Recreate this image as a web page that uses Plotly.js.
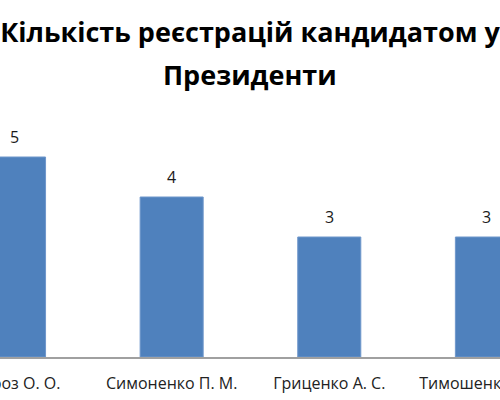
<!DOCTYPE html>
<html>
<head>
<meta charset="utf-8">
<script src="https://cdn.plot.ly/plotly-3.0.1.min.js"></script>
<style>html,body{margin:0;padding:0;background:#fff;}#chart{width:500px;height:400px;}</style>
</head>
<body>
<div id="chart"></div>
<script>
var titleLine1 = "Кількість реєстрацій кандидатом у";
var titleLine2 = "Президенти";
var candidates = ["Мороз О. О.", "Симоненко П. М.", "Гриценко А. С.", "Тимошенко Ю. В."];
var registrations = [5, 4, 3, 3];

var labelAnnotations = candidates.map(function (c, i) {
  return {
    x: c, y: registrations[i], xref: "x", yref: "y",
    text: String(registrations[i]), showarrow: false,
    yanchor: "bottom", yshift: 7,
    font: {family: "Open Sans", size: 16, color: "#1a1a1a"}
  };
});

var data = [{
  type: "bar",
  x: candidates,
  y: registrations,
  marker: {color: "#4F81BD", line: {color: "#6f97cb", width: 1}},
  hoverinfo: "skip"
}];

var layout = {
  width: 500, height: 400,
  margin: {l: 0, r: 0, t: 100, b: 43},
  paper_bgcolor: "#ffffff", plot_bgcolor: "#ffffff",
  bargap: 0.6,
  showlegend: false,
  title: {
    text: titleLine1,
    x: 0.5, xanchor: "center", xref: "paper",
    y: 1 - 33 / 400, yanchor: "middle", yref: "container",
    font: {family: "Open Sans", size: 27, color: "#000000", weight: "bold"}
  },
  xaxis: {
    type: "category",
    range: [-0.089, 3.083],
    showline: true, linecolor: "#a0a0a0", linewidth: 2,
    ticks: "", showgrid: false, zeroline: false,
    tickfont: {family: "Open Sans", size: 16, color: "#222222"},
    ticklabelstandoff: 11,
    fixedrange: true
  },
  yaxis: {
    range: [0, 6.425],
    visible: false, showgrid: false, zeroline: false,
    fixedrange: true
  },
  annotations: labelAnnotations.concat([{
    text: titleLine2, showarrow: false,
    xref: "paper", yref: "paper", x: 0.5, xanchor: "center",
    y: 1 + (100 - 75) / 257, yanchor: "middle",
    font: {family: "Open Sans", size: 27, color: "#000000", weight: "bold"}
  }])
};

Plotly.newPlot("chart", data, layout, {displayModeBar: false, staticPlot: true});
</script>
</body>
</html>
